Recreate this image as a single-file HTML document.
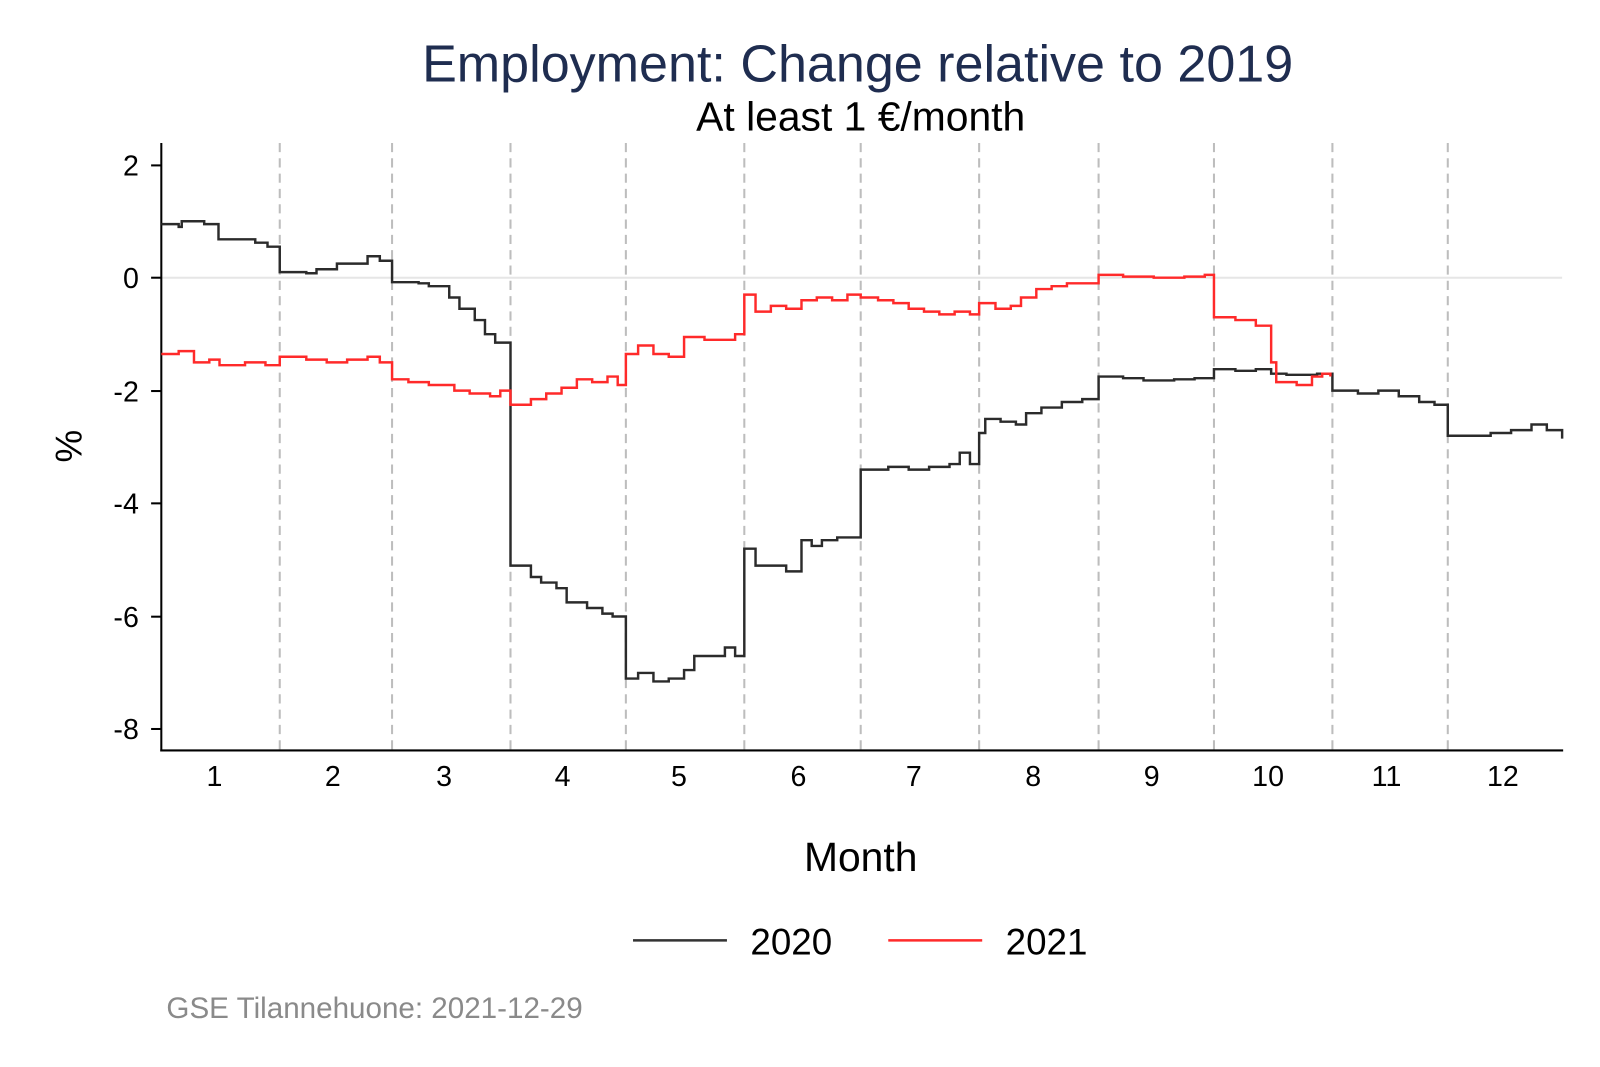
<!DOCTYPE html>
<html><head><meta charset="utf-8"><style>
body{margin:0;background:#fff;}
svg{display:block;font-family:"Liberation Sans",Arial,sans-serif;}
</style></head><body>
<svg id="s" width="1600" height="1067" viewBox="0 0 1600 1067">
<rect width="1600" height="1067" fill="#fff"/>
<g transform="scale(1.021)">
<text x="840" y="80" text-anchor="middle" font-size="51" fill="#1f2d50">Employment: Change relative to 2019</text>
<text x="843" y="128" text-anchor="middle" font-size="40" fill="#000">At least 1 €/month</text>
<line x1="158" y1="272" x2="1530" y2="272" stroke="#e6e6e6" stroke-width="2"/>
<g stroke="#bdbdbd" stroke-width="2" stroke-dasharray="9,6">
<line x1="274" y1="140" x2="274" y2="735"/><line x1="384" y1="140" x2="384" y2="735"/>
<line x1="500" y1="140" x2="500" y2="735"/><line x1="613" y1="140" x2="613" y2="735"/>
<line x1="729" y1="140" x2="729" y2="735"/><line x1="843" y1="140" x2="843" y2="735"/>
<line x1="959" y1="140" x2="959" y2="735"/><line x1="1076" y1="140" x2="1076" y2="735"/>
<line x1="1189" y1="140" x2="1189" y2="735"/><line x1="1305" y1="140" x2="1305" y2="735"/>
<line x1="1418" y1="140" x2="1418" y2="735"/>
</g>
<g stroke="#000" stroke-width="2">
<line x1="158" y1="140" x2="158" y2="736"/><line x1="157" y1="735" x2="1531" y2="735"/>
<line x1="148" y1="162" x2="158" y2="162"/><line x1="148" y1="272" x2="158" y2="272"/>
<line x1="148" y1="383" x2="158" y2="383"/><line x1="148" y1="493" x2="158" y2="493"/>
<line x1="148" y1="604" x2="158" y2="604"/><line x1="148" y1="714" x2="158" y2="714"/>
</g>
<g font-size="28" text-anchor="end" fill="#000">
<text x="136" y="172">2</text><text x="136" y="282">0</text><text x="136" y="393">-2</text>
<text x="136" y="503">-4</text><text x="136" y="614">-6</text><text x="136" y="724">-8</text>
</g>
<g font-size="28" text-anchor="middle" fill="#000">
<text x="210" y="770">1</text><text x="326" y="770">2</text><text x="435" y="770">3</text>
<text x="551" y="770">4</text><text x="665" y="770">5</text><text x="782" y="770">6</text>
<text x="895" y="770">7</text><text x="1012" y="770">8</text><text x="1128" y="770">9</text>
<text x="1242" y="770">10</text><text x="1358" y="770">11</text><text x="1472" y="770">12</text>
</g>
<text transform="translate(80,437) rotate(-90)" text-anchor="middle" font-size="36">%</text>
<text x="843" y="853" text-anchor="middle" font-size="40">Month</text>
<line x1="620" y1="921" x2="712" y2="921" stroke="#333" stroke-width="2.5"/>
<text x="735" y="935" font-size="36">2020</text>
<line x1="870" y1="921" x2="962" y2="921" stroke="#ff2a2a" stroke-width="2.5"/>
<text x="985" y="935" font-size="36">2021</text>
<text x="163" y="997" font-size="29" fill="#8a8a8a">GSE Tilannehuone: 2021-12-29</text>
<path id="a" fill="none" stroke="#2b2b2b" stroke-width="2.4"/>
<path id="b" fill="none" stroke="#ff2a2a" stroke-width="2.4"/>
</g>
</svg>
<script>
function Y(v){return 272-v*55.3;}
function step(d){var s="M"+d[0][0]+" "+Y(d[0][1]).toFixed(1);for(var i=1;i<d.length;i++){s+=" H"+d[i][0]+" V"+Y(d[i][1]).toFixed(1);}return s;}
var A=[[158,.95],[175,.9],[178,1.0],[200,.95],[214,.68],[250,.62],[262,.55],[274,.1],[300,.08],[310,.15],[330,.25],[345,.25],[360,.38],[372,.3],[384,-.08],[410,-.1],[420,-.15],[440,-.35],[450,-.55],[465,-.75],[475,-1.0],[485,-1.15],[500,-5.1],[520,-5.3],[530,-5.4],[545,-5.5],[555,-5.75],[575,-5.85],[590,-5.95],[600,-6.0],[613,-7.1],[625,-7.0],[640,-7.15],[655,-7.1],[670,-6.95],[680,-6.7],[700,-6.7],[710,-6.55],[720,-6.7],[729,-4.8],[740,-5.1],[760,-5.1],[770,-5.2],[785,-4.65],[795,-4.75],[805,-4.65],[820,-4.6],[843,-3.4],[860,-3.4],[870,-3.35],[890,-3.4],[910,-3.35],[930,-3.3],[940,-3.1],[950,-3.3],[959,-2.75],[965,-2.5],[980,-2.55],[995,-2.6],[1005,-2.4],[1020,-2.3],[1040,-2.2],[1060,-2.15],[1076,-1.75],[1100,-1.78],[1120,-1.82],[1150,-1.8],[1170,-1.78],[1189,-1.62],[1210,-1.65],[1230,-1.62],[1245,-1.7],[1260,-1.72],[1290,-1.7],[1305,-2.0],[1330,-2.05],[1350,-2.0],[1370,-2.1],[1390,-2.2],[1405,-2.25],[1418,-2.8],[1440,-2.8],[1460,-2.75],[1480,-2.7],[1500,-2.6],[1515,-2.7],[1530,-2.85]];
var B=[[158,-1.35],[175,-1.3],[190,-1.5],[205,-1.45],[215,-1.55],[240,-1.5],[260,-1.55],[274,-1.4],[300,-1.45],[320,-1.5],[340,-1.45],[360,-1.4],[372,-1.5],[384,-1.8],[400,-1.85],[420,-1.9],[445,-2.0],[460,-2.05],[480,-2.1],[490,-2.0],[500,-2.25],[520,-2.15],[535,-2.05],[550,-1.95],[565,-1.8],[580,-1.85],[595,-1.75],[605,-1.9],[613,-1.35],[625,-1.2],[640,-1.35],[655,-1.4],[670,-1.05],[690,-1.1],[710,-1.1],[720,-1.0],[729,-.3],[740,-.6],[755,-.5],[770,-.55],[785,-.4],[800,-.35],[815,-.4],[830,-.3],[843,-.35],[860,-.4],[875,-.45],[890,-.55],[905,-.6],[920,-.65],[935,-.6],[950,-.65],[959,-.45],[975,-.55],[990,-.5],[1000,-.35],[1015,-.2],[1030,-.15],[1045,-.1],[1060,-.1],[1076,.05],[1100,.02],[1130,0],[1160,.02],[1180,.05],[1189,-.7],[1210,-.75],[1230,-.85],[1245,-1.5],[1250,-1.85],[1270,-1.9],[1285,-1.75],[1295,-1.7],[1303,-1.75]];
document.getElementById("a").setAttribute("d",step(A));
document.getElementById("b").setAttribute("d",step(B));
</script>
</body></html>
